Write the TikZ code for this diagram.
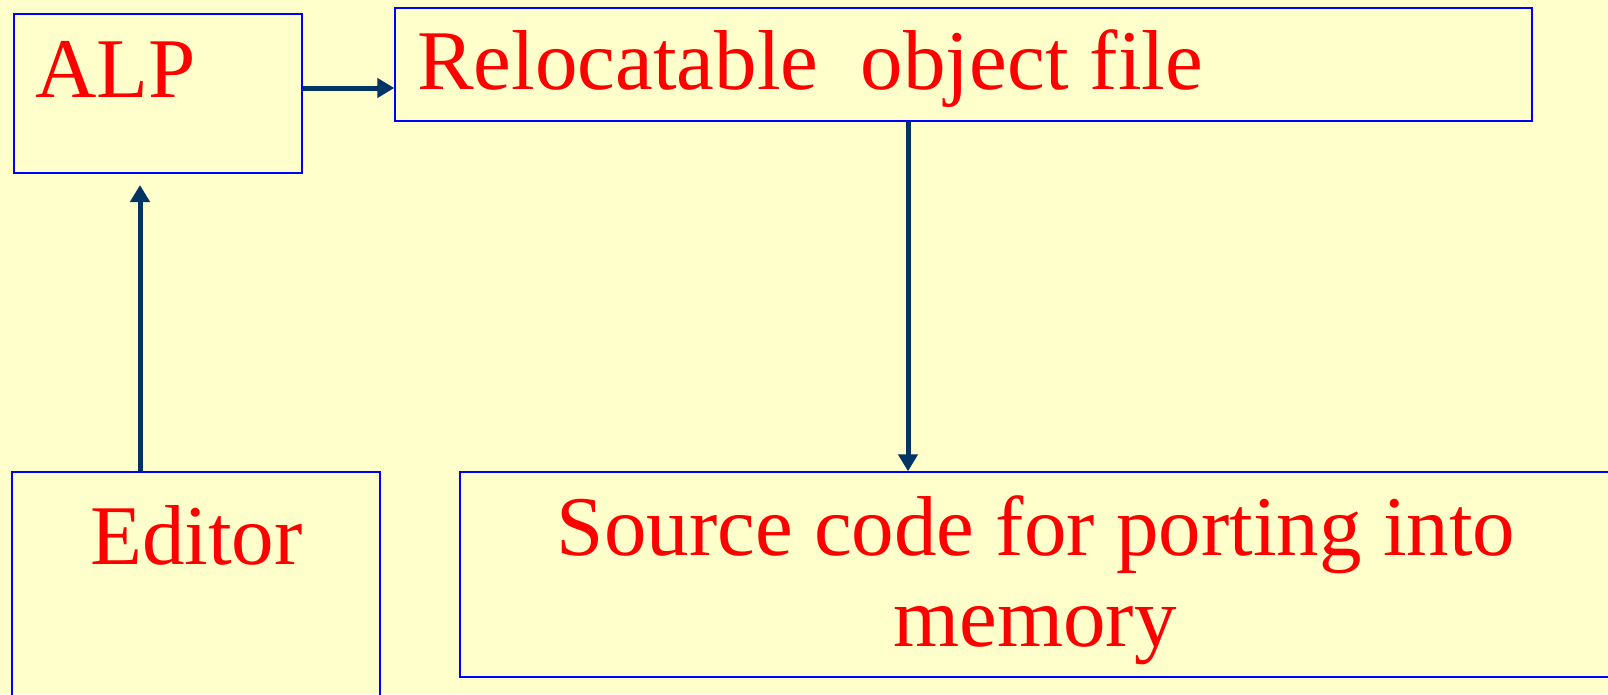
\documentclass[tikz,border=0pt]{standalone}
\usepackage{fontspec}
\setmainfont{Liberation Serif}
\usetikzlibrary{arrows.meta}
\definecolor{bgyellow}{HTML}{FFFFCC}
\definecolor{boxblue}{HTML}{0000FF}
\definecolor{txtred}{HTML}{FF0000}
\definecolor{arrblue}{HTML}{003366}
\begin{document}
\begin{tikzpicture}[x=1pt,y=-1pt,
  box/.style={draw=boxblue,line width=1.4pt,rectangle,inner sep=0pt},
  lbl/.style={text=txtred,font=\fontsize{85}{93}\selectfont,inner sep=0pt},
  arr/.style={draw=arrblue,line width=5pt,-{Triangle[length=17pt,width=19pt]}}]
\useasboundingbox (0,0) rectangle (1608,694);
\fill[bgyellow] (0,0) rectangle (1608,694);
\clip (0,0) rectangle (1608,694);
\node[box,minimum width=288pt,minimum height=159pt] (alp) at (158,93.5) {};
\node[box,minimum width=1137pt,minimum height=113pt] (reloc) at (963.5,64.5) {};
\node[box,minimum width=368pt,minimum height=248pt] (editor) at (196,596) {};
\node[box,minimum width=1160pt,minimum height=205pt] (source) at (1040,574.5) {};
\node[lbl,anchor=base west] (alpt) at (35,97) {ALP};
\node[lbl,anchor=base west] (relt) at (417,89) {Relocatable\ \ object file};
\node[lbl,anchor=base west] (edt) at (90,564) {Editor};
\node[lbl,anchor=base] (srct1) at (1036,555) {Source code for porting into};
\node[lbl,anchor=base] (srct2) at (1035,646) {memory};
\coordinate (alpin) at (140,185);
\draw[arr] (alp.east |- 0,88) -- (reloc.west |- 0,88);
\draw[arr] (editor.north -| 140,0) -- (alpin);
\draw[arr] (reloc.south -| 908,0) -- (source.north -| 908,0);
\end{tikzpicture}
\end{document}
